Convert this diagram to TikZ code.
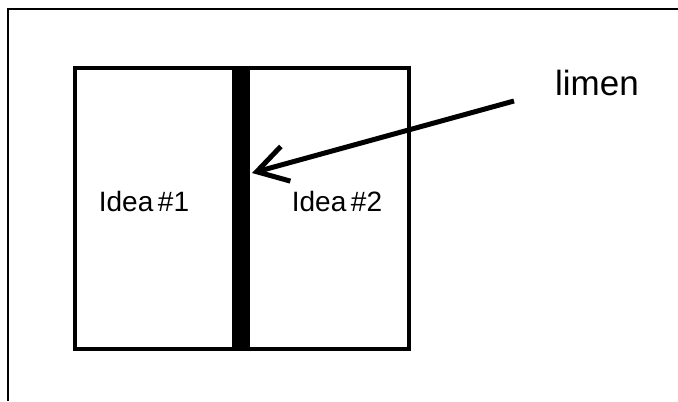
\documentclass[tikz,border=0pt]{standalone}
\usepackage{fontspec}
\setmainfont{Liberation Sans}
\usetikzlibrary{arrows.meta}
\begin{document}
\begin{tikzpicture}[x=1bp,y=-1bp,
  frameline/.style={line width=2bp,black},
  boxline/.style={draw,line width=3.5bp,black},
  ideatext/.style={font=\fontsize{28bp}{32bp}\selectfont,inner sep=0pt},
  pointer/.style={line width=5bp,-{Straight Barb[length=30bp,width=36bp,line width=5bp]}}]
\useasboundingbox (0,0) rectangle (678,401);
\fill[white] (0,0) rectangle (678,401);
% outer frame (top and left only)
\coordinate (fr) at (678,9);
\coordinate (fc) at (8,9);
\coordinate (fb) at (8,401);
\draw[frameline] (fr) -- (fc) -- (fb);
% main box
\node[boxline,minimum width=334bp,minimum height=281bp,inner sep=0pt,anchor=north west] (box) at (73,66) {};
% limen bar
\node[fill=black,minimum width=18bp,minimum height=281bp,inner sep=0pt,anchor=north west] (bar) at (232,66) {};
% texts
\node[ideatext] (i1) at (144,201) {Idea\,\#1};
\node[ideatext] (i2) at (337,201) {Idea\,\#2};
\node[font=\fontsize{35bp}{40bp}\selectfont,inner sep=0pt,anchor=base] (lim) at (597,95) {limen};
% arrow
\coordinate (tail) at (514,101);
\coordinate (tip) at (252,173);
\draw[pointer] (tail) -- (tip);
\end{tikzpicture}
\end{document}
